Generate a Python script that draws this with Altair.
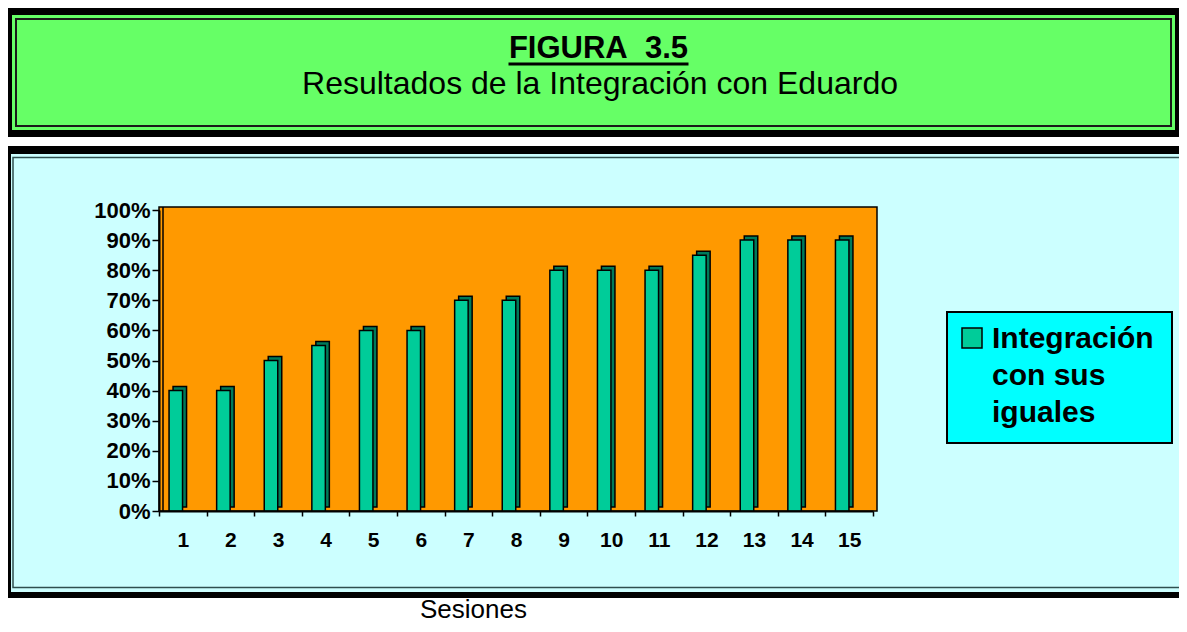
import altair as alt
import pandas as pd

# ---- data ----
sesiones = [1, 2, 3, 4, 5, 6, 7, 8, 9, 10, 11, 12, 13, 14, 15]
integracion = [0.40, 0.40, 0.50, 0.55, 0.60, 0.60, 0.70, 0.70, 0.80, 0.80, 0.80, 0.85, 0.90, 0.90, 0.90]
serie_nombre = "Integración con sus iguales"
y_ticks = [0, 0.1, 0.2, 0.3, 0.4, 0.5, 0.6, 0.7, 0.8, 0.9, 1.0]
titulo = "FIGURA\u00a0\u00a03.5"
subtitulo = "Resultados de la Integración con Eduardo"
eje_x = "Sesiones"

df = pd.DataFrame({"sesion": sesiones, "valor": integracion, "serie": serie_nombre})

FONT = "Liberation Sans"
W, H = 714, 301


def one():
    return alt.Data(values=[{"k": 0}])


def rect(x, x2, y, y2, **kw):
    return alt.Chart(one()).mark_rect(**kw).encode(
        x=alt.value(x), x2=alt.value(x2), y=alt.value(y), y2=alt.value(y2)
    )


def text(x, y, t, **kw):
    return alt.Chart(one()).mark_text(font=FONT, color="black", **kw).encode(
        x=alt.value(x), y=alt.value(y), text=alt.value(t)
    )


# decorative frames (page coords shifted by plot origin 159,210)
top_black = rect(-151, 1020, -202, -73, fill="black")
top_green = rect(-147, 1016, -195, -80, fill="#66FF66")
top_line = rect(-143, 1012, -191, -84, fillOpacity=0, stroke="#1a1a1a", strokeWidth=2)

bot_black = rect(-151, 1020, -64, 388, fill="black")
bot_cyan = rect(-148, 1020, -56, 382, fill="#CCFFFF")
bot_line = rect(-146, 1040, -52.5, 377.5, fillOpacity=0, stroke="#2F4F4F", strokeWidth=1.5)

wall = rect(0, 718, -3, 301, fill="#FF9900", stroke="black", strokeWidth=1.5)
wall_edge = alt.Chart(one()).mark_rule(color="black", strokeWidth=1.5).encode(
    x=alt.value(4), y=alt.value(-3), y2=alt.value(301)
)

x_enc = alt.X(
    "sesion:O",
    sort=sesiones,
    scale=alt.Scale(paddingInner=0, paddingOuter=0),
    axis=alt.Axis(
        title=eje_x, labelAngle=0, tickBand="extent", tickSize=5, tickWidth=1.5,
        tickColor="black", domainColor="black", domainWidth=2,
        labelFont=FONT, labelFontSize=21, labelFontWeight="bold", labelColor="black",
        labelPadding=13, titleFont=FONT, titleFontSize=26, titleFontWeight="normal",
        titleColor="black", titleX=314, titleY=106, titleBaseline="alphabetic",
        titleAnchor="middle", titleAlign="center", zindex=1,
    ),
)
y_enc = alt.Y(
    "valor:Q",
    scale=alt.Scale(domain=[0, 1], nice=False),
    axis=alt.Axis(
        title=None, values=y_ticks, format=".0%", grid=False, tickSize=7, tickWidth=1.5,
        tickColor="black", domainColor="black", domainWidth=2,
        labelFont=FONT, labelFontSize=22, labelFontWeight="bold", labelColor="black",
        labelPadding=2, zindex=1,
    ),
)

bars_side = alt.Chart(df).mark_bar(
    width=13.5, xOffset=-3, yOffset=-4, color="#007A5A", stroke="black", strokeWidth=1.5
).encode(x=x_enc, y=y_enc)
bars_front = alt.Chart(df).mark_bar(
    width=13.5, xOffset=-7, color="#00CC99", stroke="black", strokeWidth=1.5
).encode(x=x_enc, y=y_enc)

# legend
leg_box = rect(788, 1013, 102, 233, fill="#00FFFF", stroke="black", strokeWidth=2)
leg_sym = rect(803, 823, 118, 138, fill="#00CC99", stroke="black", strokeWidth=1.5)
leg_txt = text(833, 138, serie_nombre.replace("Integración ", "Integración\n").replace("sus ", "sus\n"),
               align="left", baseline="alphabetic", fontSize=30, fontWeight="bold",
               lineBreak="\n", lineHeight=37)

# titles
t1 = text(439.5, -152, titulo, align="center", baseline="alphabetic", fontSize=31, fontWeight="bold")
t1_ul = alt.Chart(one()).mark_rule(color="black", strokeWidth=3).encode(
    x=alt.value(439.5 - 90), x2=alt.value(439.5 + 90), y=alt.value(-146)
)
t2 = text(441, -116, subtitulo, align="center", baseline="alphabetic", fontSize=32)

chart = alt.layer(
    top_black, top_green, top_line,
    bot_black, bot_cyan, bot_line,
    wall, wall_edge,
    bars_side, bars_front,
    leg_box, leg_sym, leg_txt,
    t1, t1_ul, t2,
).properties(
    width=W, height=H,
    autosize=alt.AutoSizeParams(type="none"),
    padding={"left": 151, "top": 202, "right": 306, "bottom": 113},
    background="white",
).configure_view(stroke=None)

chart.save("out.html", embed_options={"renderer": "svg", "actions": False})
